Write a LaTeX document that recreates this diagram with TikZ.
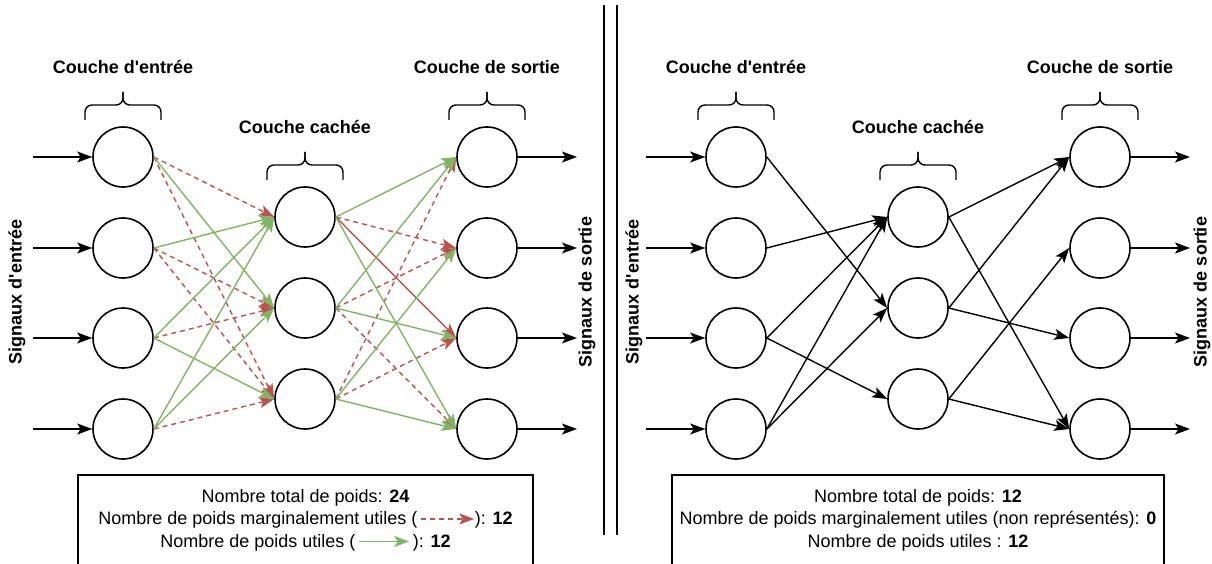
\documentclass[tikz,border=0pt]{standalone}
\usepackage{fontspec}
\setmainfont{Liberation Sans}
\usetikzlibrary{arrows.meta}
\usetikzlibrary{positioning}

\definecolor{vert}{HTML}{82B366}
\definecolor{rouge}{HTML}{B85450}

\tikzset{
  neurone/.style={circle,draw,line width=1.6pt,minimum size=60pt,inner sep=0pt},
  fleche/.style={line width=1.4pt,-{Stealth[length=15pt,width=11pt,inset=3.5pt]}},
  utile/.style={fleche,vert},
  marge/.style={fleche,rouge,dash pattern=on 5pt off 4pt},
  titre/.style={font=\bfseries\fontsize{18}{22}\selectfont},
  bilan/.style={font=\fontsize{18}{22.5}\selectfont,align=center},
  accolade/.style={line width=1.4pt,rounded corners=7pt}
}

\begin{document}
\begin{tikzpicture}[x=1pt,y=-1pt]
    \useasboundingbox (0,0) rectangle (1212,564);

    % reseau complet (gauche)
    \foreach \i/\y in {1/157,2/248,3/338,4/429}{
        \node[neurone] (e\i) at (123,\y) {};
        \node[neurone] (s\i) at (487,\y) {};
        \coordinate (xe\i) at (33,\y);
        \coordinate (xs\i) at (577,\y);
        \draw[fleche] (xe\i) -- (e\i);
        \draw[fleche] (s\i) -- (xs\i);
    }
    \foreach \j/\y in {1/217,2/308,3/399}
        \node[neurone] (c\j) at (305,\y) {};

    \foreach \a/\b in {1/1,1/3,2/2,2/3,3/2,4/3}
        \draw[marge] (e\a.east) -- (c\b.west);
    \foreach \a/\b in {1/2,2/1,3/1,3/3,4/1,4/2}
        \draw[utile] (e\a.east) -- (c\b.west);
    \foreach \a/\b in {1/2,2/2,2/4,3/1,3/3}
        \draw[marge] (c\a.east) -- (s\b.west);
    \draw[fleche,rouge] (c1.east) -- (s3.west);
    \foreach \a/\b in {1/1,1/4,2/1,2/3,3/2,3/4}
        \draw[utile] (c\a.east) -- (s\b.west);

    % reseau elague (droite)
    \foreach \i/\y in {1/157,2/248,3/338,4/429}{
        \node[neurone] (re\i) at (736,\y) {};
        \node[neurone] (rs\i) at (1100,\y) {};
        \coordinate (rxe\i) at (646,\y);
        \coordinate (rxs\i) at (1190,\y);
        \draw[fleche] (rxe\i) -- (re\i);
        \draw[fleche] (rs\i) -- (rxs\i);
    }
    \foreach \j/\y in {1/217,2/308,3/399}
        \node[neurone] (rc\j) at (918,\y) {};

    \foreach \a/\b in {1/2,2/1,3/1,3/3,4/1,4/2}
        \draw[fleche] (re\a.east) -- (rc\b.west);
    \foreach \a/\b in {1/1,1/4,2/1,2/3,3/2,3/4}
        \draw[fleche] (rc\a.east) -- (rs\b.west);

    % accolades des couches
    \foreach \xg/\xd/\yh in {85/161/105,267/343/165,449/525/105,698/774/105,880/956/165,1062/1138/105}{
        \draw[accolade] (\xg,\yh+15) -- (\xg,\yh) -- ({(\xg+\xd)/2},\yh) -- ({(\xg+\xd)/2},\yh-13);
        \draw[accolade] (\xd,\yh+15) -- (\xd,\yh) -- ({(\xg+\xd)/2},\yh) -- ({(\xg+\xd)/2},\yh-13);
    }

    \node[titre] (te) at (123,67) {Couche d\textquotesingle entrée};
    \node[titre] (tc) at (305,127) {Couche cachée};
    \node[titre] (ts) at (487,67) {Couche de sortie};
    \node[titre] (rte) at (736,67) {Couche d\textquotesingle entrée};
    \node[titre] (rtc) at (918,127) {Couche cachée};
    \node[titre] (rts) at (1100,67) {Couche de sortie};

    \node[titre,rotate=90] (se) at (17,292) {Signaux d\textquotesingle entrée};
    \node[titre,rotate=90] (ss) at (587,292) {Signaux de sortie};
    \node[titre,rotate=90] (rse) at (634,292) {Signaux d\textquotesingle entrée};
    \node[titre,rotate=90] (rss) at (1202,292) {Signaux de sortie};

    % separation
    \draw[line width=1.4pt] (604,5) -- (604,535);
    \draw[line width=1.4pt] (617,5) -- (617,535);

    % bilans
    \draw[line width=1.4pt] (78,475) rectangle (533,575);
    \node[bilan] (bg) at (305.5,520) {Nombre total de poids: \textbf{24}\\
        Nombre de poids marginalement utiles (\,\tikz[baseline=-0.6ex]\draw[marge] (0pt,0pt) -- (53pt,0pt);): \textbf{12}\\
        Nombre de poids utiles (\,\tikz[baseline=-0.6ex]\draw[utile] (0pt,0pt) -- (50pt,0pt);\,): \textbf{12}};
    \draw[line width=1.4pt] (672,475) rectangle (1164,575);
    \node[bilan] (bd) at (918,520) {Nombre total de poids: \textbf{12}\\
        Nombre de poids marginalement utiles (non représentés): \textbf{0}\\
        Nombre de poids utiles : \textbf{12}};
\end{tikzpicture}
\end{document}
